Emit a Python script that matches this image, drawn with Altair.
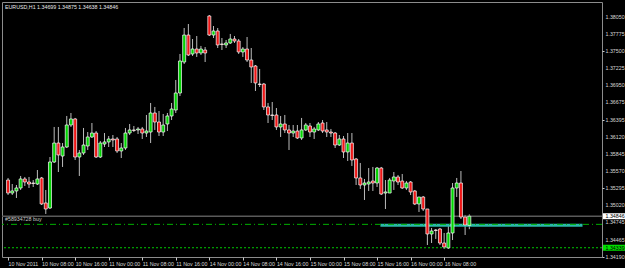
import json
import altair as alt
import pandas as pd

symbol = "EURUSD,H1"

opens = [
    1.35428, 1.35219, 1.35252, 1.35300, 1.35445, 1.35396, 1.35380, 1.35364, 1.35461, 1.35059,
    1.34978, 1.35718, 1.36023, 1.35814, 1.35959, 1.36313, 1.36410, 1.35798, 1.35863, 1.35975,
    1.36120, 1.36184, 1.35798, 1.36007, 1.36040, 1.36088, 1.36088, 1.35895, 1.35943, 1.36184,
    1.36233, 1.36233, 1.36249, 1.36184, 1.36200, 1.36506, 1.36361, 1.36200, 1.36329, 1.36458,
    1.36554, 1.36828, 1.37326, 1.37760, 1.37455, 1.37535, 1.37471, 1.37519, 1.38066, 1.37760,
    1.37825, 1.37616, 1.37600, 1.37632, 1.37696, 1.37664, 1.37487, 1.37535, 1.37358, 1.37262,
    1.36972, 1.36972, 1.36603, 1.36474, 1.36474, 1.36281, 1.36329, 1.36233, 1.36184, 1.36216,
    1.36104, 1.36233, 1.36297, 1.36200, 1.36233, 1.36345, 1.36233, 1.36200, 1.36184, 1.35991,
    1.36088, 1.35879, 1.36023, 1.35766, 1.35461, 1.35348, 1.35364, 1.35412, 1.35380, 1.35621,
    1.35219, 1.35219, 1.35412, 1.35477, 1.35412, 1.35300, 1.35396, 1.35252, 1.35043, 1.35155,
    1.34962, 1.34560, 1.34624, 1.34640, 1.34415, 1.34335, 1.34576, 1.35300, 1.35380, 1.34833,
    1.34699,
]
highs = [
    1.35461, 1.35364, 1.35348, 1.35493, 1.35477, 1.35477, 1.35428, 1.35589, 1.35477, 1.35268,
    1.35798, 1.36281, 1.36281, 1.36023, 1.36458, 1.36506, 1.36426, 1.35911, 1.36265, 1.36200,
    1.36345, 1.36216, 1.36056, 1.36184, 1.36136, 1.36152, 1.36120, 1.36023, 1.36265, 1.36329,
    1.36297, 1.36281, 1.36281, 1.36474, 1.36667, 1.36603, 1.36538, 1.36490, 1.36506, 1.36667,
    1.37037, 1.37455, 1.37873, 1.37937, 1.37696, 1.37744, 1.37584, 1.37567, 1.38082, 1.37905,
    1.37873, 1.37712, 1.37680, 1.37777, 1.37744, 1.37696, 1.37567, 1.37728, 1.37551, 1.37278,
    1.37214, 1.36989, 1.36667, 1.36683, 1.36586, 1.36458, 1.36474, 1.36313, 1.36313, 1.36313,
    1.36426, 1.36345, 1.36345, 1.36281, 1.36361, 1.36393, 1.36361, 1.36249, 1.36200, 1.36152,
    1.36136, 1.36184, 1.36184, 1.35782, 1.35702, 1.35445, 1.35621, 1.35638, 1.35638, 1.35638,
    1.35428, 1.35461, 1.35557, 1.35509, 1.35525, 1.35412, 1.35412, 1.35268, 1.35155, 1.35171,
    1.34962, 1.34657, 1.34640, 1.34657, 1.34576, 1.34705, 1.35380, 1.35461, 1.35573, 1.34866,
    1.34875,
]
lows = [
    1.35187, 1.35187, 1.35139, 1.35268, 1.35332, 1.35300, 1.35316, 1.35348, 1.35026, 1.34882,
    1.34962, 1.35702, 1.35557, 1.35638, 1.35943, 1.36281, 1.35750, 1.35493, 1.35831, 1.35911,
    1.36104, 1.35782, 1.35782, 1.35959, 1.35959, 1.35959, 1.35863, 1.35782, 1.35911, 1.36152,
    1.36200, 1.36168, 1.36088, 1.36120, 1.36023, 1.36233, 1.36136, 1.36136, 1.36216, 1.36393,
    1.36506, 1.36779, 1.37294, 1.37423, 1.37423, 1.37407, 1.37439, 1.37326, 1.37744, 1.37712,
    1.37551, 1.37519, 1.37551, 1.37616, 1.37632, 1.37455, 1.37407, 1.37326, 1.36989, 1.36860,
    1.36924, 1.36554, 1.36345, 1.36393, 1.36233, 1.36120, 1.36184, 1.35911, 1.36120, 1.36088,
    1.36072, 1.36216, 1.36120, 1.36088, 1.36216, 1.36184, 1.36120, 1.36120, 1.35943, 1.35975,
    1.35782, 1.35734, 1.35654, 1.35348, 1.35284, 1.35107, 1.35252, 1.35252, 1.35316, 1.35187,
    1.34962, 1.35219, 1.35268, 1.35348, 1.35284, 1.35268, 1.35187, 1.35026, 1.34914, 1.34930,
    1.34383, 1.34415, 1.34480, 1.34383, 1.34319, 1.34319, 1.34463, 1.35155, 1.34801, 1.34544,
    1.34638,
]
closes = [
    1.35219, 1.35252, 1.35300, 1.35445, 1.35396, 1.35364, 1.35372, 1.35445, 1.35043, 1.34962,
    1.35718, 1.36023, 1.35831, 1.35959, 1.36313, 1.36410, 1.35798, 1.35863, 1.35991, 1.36120,
    1.36184, 1.35798, 1.36023, 1.36040, 1.36088, 1.36072, 1.35895, 1.35943, 1.36184, 1.36233,
    1.36225, 1.36249, 1.36184, 1.36216, 1.36506, 1.36361, 1.36200, 1.36313, 1.36458, 1.36570,
    1.36828, 1.37342, 1.37760, 1.37439, 1.37535, 1.37471, 1.37535, 1.37471, 1.37760, 1.37825,
    1.37600, 1.37608, 1.37632, 1.37696, 1.37664, 1.37487, 1.37535, 1.37358, 1.37246, 1.36989,
    1.36964, 1.36603, 1.36474, 1.36466, 1.36281, 1.36329, 1.36233, 1.36184, 1.36216, 1.36104,
    1.36233, 1.36313, 1.36200, 1.36249, 1.36329, 1.36216, 1.36200, 1.36184, 1.35991, 1.36088,
    1.35879, 1.36023, 1.35750, 1.35461, 1.35348, 1.35380, 1.35396, 1.35380, 1.35621, 1.35203,
    1.35236, 1.35428, 1.35477, 1.35396, 1.35300, 1.35380, 1.35236, 1.35043, 1.35155, 1.34962,
    1.34560, 1.34608, 1.34616, 1.34415, 1.34351, 1.34576, 1.35300, 1.35380, 1.34833, 1.34705,
    1.34846,
]

time_labels = [
    "10 Nov 2011", "10 Nov 08:00", "10 Nov 16:00", "11 Nov 00:00", "11 Nov 08:00",
    "11 Nov 16:00", "14 Nov 00:00", "14 Nov 08:00", "14 Nov 16:00", "15 Nov 00:00",
    "15 Nov 08:00", "15 Nov 16:00", "16 Nov 00:00", "16 Nov 08:00",
]
time_label_bars = [0, 8, 16, 24, 32, 40, 48, 56, 64, 72, 80, 88, 96, 104]

price_ticks = [1.38050, 1.37775, 1.37500, 1.37225, 1.36950, 1.36675, 1.36395,
               1.36120, 1.35845, 1.35570, 1.35295, 1.35020, 1.34745, 1.34465, 1.34190]

bid_price = 1.34846
order_price = 1.34715
order_label = "#58934728 buy"
sl_price = 1.34339
zone_bars = [88.8, 137.0]
zone_prices = [1.34675, 1.34725]

W, H = 600, 255
y_dom = [1.34190, 1.38291]
x_dom = [-0.25, 140.45]

FONT = "Liberation Sans"
FS = 5.3

df = pd.DataFrame({"i": list(range(len(opens))), "open": opens, "high": highs,
                   "low": lows, "close": closes})

xs = alt.Scale(domain=x_dom, nice=False, zero=False)
ys = alt.Scale(domain=y_dom, nice=False, zero=False)

x_axis = alt.Axis(values=time_label_bars,
                  labelExpr=json.dumps(time_labels) + "[round(datum.value / 8)]",
                  grid=False, domain=False, labelAlign="left", labelFlush=False,
                  labelOverlap=False, labelColor="#d8d8d8", labelFont=FONT, labelFontSize=FS,
                  tickColor="#c8c8c8", tickSize=3, labelPadding=1, labelBaseline="top")
y_axis = alt.Axis(orient="right", values=price_ticks, labels=False, grid=False, domain=False,
                  tickColor="#c8c8c8", tickSize=2)

base = alt.Chart(df)

wicks = base.mark_rule(color="#bcbcbc", strokeWidth=1).encode(
    x=alt.X("i:Q", scale=xs, axis=x_axis, title=None),
    y=alt.Y("low:Q", scale=ys, axis=y_axis, title=None),
    y2="high:Q",
)

bodies = base.mark_bar(size=3, stroke="#ffffff", strokeWidth=0.7).encode(
    x=alt.X("i:Q", scale=xs, title=None),
    y=alt.Y("open:Q", scale=ys, title=None),
    y2="close:Q",
    color=alt.condition("datum.close >= datum.open", alt.value("#00d400"), alt.value("#ee1616")),
)

# price labels of the right-hand axis
tick_df = pd.DataFrame({"p": price_ticks, "t": [f"{v:.5f}" for v in price_ticks]})
price_labels = alt.Chart(tick_df).mark_text(
    align="left", baseline="middle", font=FONT, fontSize=FS, color="#d8d8d8").encode(
    x=alt.value(W + 3.5), y=alt.Y("p:Q", scale=ys, title=None), text="t:N")

zone = alt.Chart(pd.DataFrame({"x1": [zone_bars[0]], "x2": [zone_bars[1]],
                               "y1": [zone_prices[0]], "y2": [zone_prices[1]]})).mark_rect(
    color="#2ab8a8").encode(
    x=alt.X("x1:Q", scale=xs, title=None), x2="x2:Q",
    y=alt.Y("y1:Q", scale=ys, title=None), y2="y2:Q",
)

bid_df = pd.DataFrame({"p": [bid_price], "t": [f"{bid_price:.5f}"]})
sl_df = pd.DataFrame({"p": [sl_price], "t": [f"{sl_price:.5f}"]})
order_df = pd.DataFrame({"p": [order_price], "t": [order_label]})

bid_rule = alt.Chart(bid_df).mark_rule(color="#5a5a5a", strokeWidth=1.5).encode(
    y=alt.Y("p:Q", scale=ys, title=None))
order_rule = alt.Chart(order_df).mark_rule(color="#00b000", strokeWidth=1,
                                           strokeDash=[6, 3, 1, 3]).encode(
    y=alt.Y("p:Q", scale=ys, title=None))
sl_rule = alt.Chart(sl_df).mark_rule(color="#00c800", strokeWidth=1, strokeDash=[2, 2]).encode(
    y=alt.Y("p:Q", scale=ys, title=None))

order_text = alt.Chart(order_df).mark_text(align="left", baseline="bottom", dy=-2,
                                           font=FONT, fontSize=FS, color="#c8c8c8").encode(
    x=alt.value(3), y=alt.Y("p:Q", scale=ys, title=None), text="t:N")

bid_box = alt.Chart(bid_df).mark_rect(color="#ffffff", yOffset=-3, y2Offset=3).encode(
    x=alt.value(W + 1), x2=alt.value(W + 23),
    y=alt.Y("p:Q", scale=ys, title=None), y2="p:Q")
bid_text = alt.Chart(bid_df).mark_text(align="left", baseline="middle", font=FONT,
                                       fontSize=FS, color="#000000").encode(
    x=alt.value(W + 3.5), y=alt.Y("p:Q", scale=ys, title=None), text="t:N")
sl_box = alt.Chart(sl_df).mark_rect(color="#00e000", yOffset=-3, y2Offset=3).encode(
    x=alt.value(W + 1), x2=alt.value(W + 23),
    y=alt.Y("p:Q", scale=ys, title=None), y2="p:Q")
sl_text = alt.Chart(sl_df).mark_text(align="left", baseline="middle", font=FONT,
                                     fontSize=FS, color="#000000").encode(
    x=alt.value(W + 3.5), y=alt.Y("p:Q", scale=ys, title=None), text="t:N")

header = f"{symbol}  {opens[-1]:.5f} {highs[-1]:.5f} {lows[-1]:.5f} {closes[-1]:.5f}"
header_text = alt.Chart(pd.DataFrame({"t": [header]})).mark_text(
    align="left", baseline="middle", font=FONT, fontSize=FS, color="#e8e8e8").encode(
    x=alt.value(3), y=alt.value(5), text="t:N")

chart = alt.layer(
    wicks, bid_rule, zone, order_rule, sl_rule, bodies, order_text, price_labels,
    bid_box, bid_text, sl_box, sl_text, header_text,
).properties(
    width=W, height=H, background="#000000",
    padding={"left": 2, "top": 2, "right": 23, "bottom": 11},
    autosize=alt.AutoSizeParams(type="none"),
).configure_view(stroke="#8c8c8c", strokeWidth=1).configure_axis(
    labelOverlap=False, labelFlush=False, labelFont=FONT, labelFontSize=FS,
    labelColor="#d8d8d8", grid=False, domain=False,
)

chart.save("out.html", embed_options={"renderer": "svg", "actions": False})
